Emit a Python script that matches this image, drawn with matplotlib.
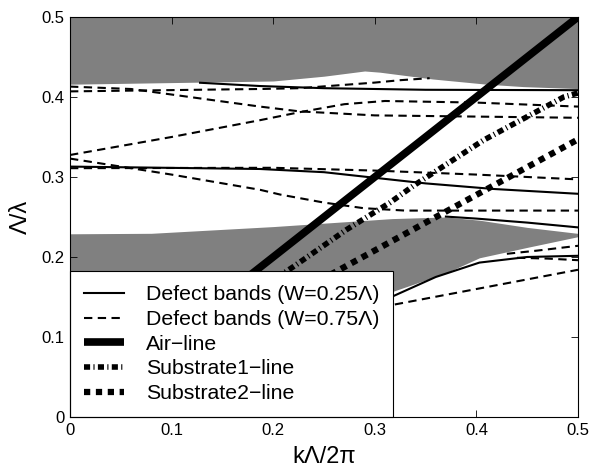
import numpy as np
import matplotlib.pyplot as plt

plt.rcParams['font.family'] = ['Liberation Sans', 'DejaVu Sans']

# bande interdite (zones grises)
gap_hi_x = [0, 0.1, 0.2, 0.25, 0.29, 0.305, 0.357, 0.41, 0.446, 0.5]
gap_hi_y = [0.416, 0.418, 0.42, 0.426, 0.4325, 0.431, 0.4225, 0.416, 0.413, 0.4105]

gap_lo_x = [0, 0.08, 0.2, 0.317, 0.37, 0.403, 0.45, 0.5]
gap_lo_top = [0.229, 0.2296, 0.238, 0.248, 0.25, 0.246, 0.237, 0.2295]
gap_lo_bot = [0.0, 0.04, 0.1, 0.1567, 0.18, 0.199, 0.212, 0.2254]

# bandes de defaut W=0.25
s1_x = [0.128, 0.187, 0.25, 0.35, 0.5]
s1_y = [0.4178, 0.4137, 0.411, 0.409, 0.4085]
s2_x = [0, 0.187, 0.25, 0.3, 0.35, 0.417, 0.5]
s2_y = [0.313, 0.31, 0.306, 0.299, 0.292, 0.285, 0.279]
s3_x = [0.37, 0.4, 0.45, 0.5]
s3_y = [0.2505, 0.248, 0.243, 0.237]
s4_x = [0.25, 0.318, 0.36, 0.403, 0.45, 0.5]
s4_y = [0.11, 0.151, 0.175, 0.193, 0.2, 0.2015]

# bandes de defaut W=0.75
d1_x = [0, 0.06, 0.187, 0.226, 0.3, 0.5]
d1_y = [0.413, 0.41, 0.388, 0.382, 0.377, 0.374]
d2_x = [0, 0.187, 0.226, 0.3, 0.325, 0.354]
d2_y = [0.407, 0.41, 0.411, 0.418, 0.421, 0.4235]
d3_x = [0, 0.1, 0.187, 0.226, 0.27, 0.31, 0.4, 0.5]
d3_y = [0.3275, 0.35, 0.371, 0.381, 0.391, 0.395, 0.393, 0.388]
d4_x = [0, 0.1, 0.187, 0.207, 0.25, 0.289, 0.33, 0.5]
d4_y = [0.323, 0.303, 0.284, 0.278, 0.268, 0.261, 0.258, 0.258]
d5_x = [0, 0.2, 0.3, 0.4, 0.5]
d5_y = [0.311, 0.3115, 0.308, 0.303, 0.297]
d6_x = [0.2, 0.317, 0.5]
d6_y = [0.112, 0.14, 0.184]
d7_x = [0.43, 0.46, 0.5]
d7_y = [0.204, 0.208, 0.214]
d8_x = [0.44, 0.47, 0.5]
d8_y = [0.199, 0.198, 0.196]

# lignes de lumiere
air_x = [0, 0.5]
air_y = [0, 0.5]
sub1_x = [0, 0.22, 0.272, 0.315, 0.338, 0.407, 0.486, 0.5]
sub1_y = [0, 0.188, 0.234, 0.268, 0.289, 0.346, 0.400, 0.405]
sub2_x = [0, 0.5]
sub2_y = [0, 0.347]

fig = plt.figure(figsize=(6.02, 4.68), dpi=100)
ax = fig.add_axes([0.1163, 0.109, 0.8438, 0.8547])

gris = '#808080'
ax.fill_between(gap_hi_x, gap_hi_y, 0.5, color=gris, lw=0, zorder=1)
ax.fill_between(gap_lo_x, gap_lo_bot, gap_lo_top, color=gris, lw=0, zorder=1)

lw_def = 1.5
kw_s = dict(color='k', lw=lw_def, zorder=3)
kw_d = dict(color='k', lw=lw_def, dashes=(4, 2.6), zorder=3)

ax.plot(s1_x, s1_y, label='Defect bands (W=0.25\u039b)', **kw_s)
ax.plot(d1_x, d1_y, label='Defect bands (W=0.75\u039b)', **kw_d)
for xx, yy in [(s2_x, s2_y), (s3_x, s3_y), (s4_x, s4_y)]:
    ax.plot(xx, yy, **kw_s)
for xx, yy in [(d2_x, d2_y), (d3_x, d3_y), (d4_x, d4_y), (d5_x, d5_y),
               (d6_x, d6_y), (d7_x, d7_y), (d8_x, d8_y)]:
    ax.plot(xx, yy, **kw_d)

ax.plot(air_x, air_y, color='k', lw=5.5, solid_capstyle='butt', zorder=4,
        label='Air\u2212line')
ax.plot(sub1_x, sub1_y, color='k', lw=4, dashes=(1.1, 0.6, 0.2, 0.6),
        dash_capstyle='butt', zorder=4, label='Substrate1\u2212line')
ax.plot(sub2_x, sub2_y, color='k', lw=4.5, dashes=(1.0, 0.9),
        dash_capstyle='butt', zorder=4, label='Substrate2\u2212line')

ax.set_xlim(0, 0.5)
ax.set_ylim(0, 0.5)
ax.set_xticks(np.arange(0, 0.51, 0.1))
ax.set_yticks(np.arange(0, 0.51, 0.1))
ax.set_xticklabels(['0', '0.1', '0.2', '0.3', '0.4', '0.5'])
ax.set_yticklabels(['0', '0.1', '0.2', '0.3', '0.4', '0.5'])
ax.tick_params(direction='in', length=5, width=0.6, labelsize=12, pad=4,
               top=True, right=True)
for sp in ax.spines.values():
    sp.set_linewidth(0.8)
    sp.set_zorder(6)

ax.set_xlabel('k\u039b/2\u03c0', fontsize=17, labelpad=6)
ax.set_ylabel('\u039b/\u03bb', fontsize=17, labelpad=7)

leg = ax.legend(loc='lower left', borderaxespad=0, fontsize=15.3,
                handlelength=1.88, handletextpad=1.05, labelspacing=0.27,
                borderpad=0.65, fancybox=False, framealpha=1, edgecolor='k')
leg.get_frame().set_linewidth(0.8)
leg.set_zorder(5)

fig.savefig('out.png', dpi=100)
